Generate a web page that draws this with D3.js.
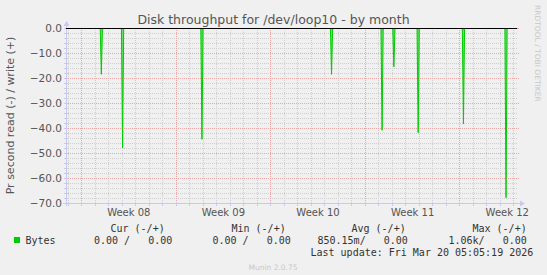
<!DOCTYPE html>
<html lang="en">
<head>
  <meta charset="UTF-8">
  <title>Disk throughput for /dev/loop10 - by month</title>
  <style>
    body { margin: 0; background: #f0f0f0; }
    svg { display: block; }
    text { font-family: "DejaVu Sans", sans-serif; }
    .mono { font-family: "DejaVu Sans Mono", monospace; white-space: pre; }
  </style>
</head>
<body>
  <svg id="chart" width="547" height="275"></svg>
  <script src="https://d3js.org/d3.v7.min.js"></script>
  <script>
    // time window shown on the graph (UTC)
    const timeStart = Date.UTC(2026, 1, 14, 21, 20);
    const timeEnd = Date.UTC(2026, 2, 20, 6, 13);

    // read spikes (negative = read), values in bytes/s
    const spikeTimes = [
      Date.UTC(2026, 1, 17, 11, 12),
      Date.UTC(2026, 1, 19, 0, 53),
      Date.UTC(2026, 1, 24, 21, 52),
      Date.UTC(2026, 2, 6, 12, 0),
      Date.UTC(2026, 2, 10, 5, 45),
      Date.UTC(2026, 2, 11, 2, 40),
      Date.UTC(2026, 2, 12, 21, 50),
      Date.UTC(2026, 2, 16, 6, 14),
      Date.UTC(2026, 2, 19, 9, 50)
    ];
    const spikeValues = [-18.3, -47.7, -44.3, -18.3, -40.7, -15.3, -41.7, -38.1, -67.7];

    const yTicks = [0, -10, -20, -30, -40, -50, -60, -70];
    const weekLabels = ["Week 08", "Week 09", "Week 10", "Week 11", "Week 12"];

    const legendHeader = ["Cur (-/+)", "Min (-/+)", "Avg (-/+)", "Max (-/+)"];
    const legendValues = ["0.00 /   0.00", "0.00 /   0.00", "850.15m/   0.00", "1.06k/   0.00"];

    // one sample every 2 hours on the month graph
    const step = 2 * 3600 * 1000;

    const svg = d3.select("#chart");
    const plotL = 66, plotR = 517, plotT = 28, plotB = 203;

    const x = d3.scaleUtc().domain([timeStart, timeEnd]).range([plotL + 0.5, plotR + 0.5]);
    const y = d3.scaleLinear().domain([-70, 0]).range([plotB + 0.5, plotT + 0.5]);
    const px = d => Math.round(x(d) - 0.5) + 0.5;

    // title
    svg.append("text")
      .attr("x", 273.5).attr("y", 24)
      .attr("text-anchor", "middle")
      .attr("font-size", 12.5)
      .attr("fill", "#555")
      .text("Disk throughput for /dev/loop10 - by month");

    // grid
    const grid = svg.append("g");
    const days = d3.utcDay.range(timeStart, timeEnd);
    const mondays = d3.utcMonday.range(timeStart, timeEnd);

    grid.selectAll(".vminor")
      .data(days.filter(d => d.getUTCDay() !== 1))
      .enter().append("line")
      .attr("x1", px).attr("x2", px)
      .attr("y1", plotT).attr("y2", plotB + 1)
      .attr("stroke", "#cfcfcf").attr("stroke-dasharray", "1,1");

    grid.selectAll(".hminor")
      .data(d3.range(-70, 1, 2).filter(v => v % 10 !== 0))
      .enter().append("line")
      .attr("x1", plotL).attr("x2", plotR + 1)
      .attr("y1", d => y(d)).attr("y2", d => y(d))
      .attr("stroke", "#cfcfcf").attr("stroke-dasharray", "1,1");

    grid.selectAll(".vmajor")
      .data(mondays)
      .enter().append("line")
      .attr("x1", px).attr("x2", px)
      .attr("y1", plotT).attr("y2", plotB + 1)
      .attr("stroke", "#e8a8a8").attr("stroke-dasharray", "1,1");

    grid.selectAll(".hmajor")
      .data(yTicks)
      .enter().append("line")
      .attr("x1", plotL).attr("x2", plotR + 2)
      .attr("y1", d => y(d)).attr("y2", d => y(d))
      .attr("stroke", "#e8a8a8").attr("stroke-dasharray", "1,1");

    // y tick labels
    svg.selectAll(".ylab")
      .data(yTicks)
      .enter().append("text")
      .attr("x", 62).attr("y", d => y(d) + 3.8)
      .attr("text-anchor", "end")
      .attr("font-size", 10.5)
      .attr("fill", "#555")
      .text(d => d3.format(".1f")(d));

    // week labels, centred in each week
    svg.selectAll(".xlab")
      .data(mondays.slice(0, weekLabels.length))
      .enter().append("text")
      .attr("x", d => x(d3.utcHour.offset(d, 84)))
      .attr("y", 216)
      .attr("text-anchor", "middle")
      .attr("font-size", 10)
      .attr("fill", "#555")
      .text((d, i) => weekLabels[i]);

    // axis label
    svg.append("text")
      .attr("transform", `translate(14,${(plotT + plotB) / 2}) rotate(-90)`)
      .attr("text-anchor", "middle")
      .attr("font-size", 11)
      .attr("fill", "#555")
      .text("Pr second read (-) / write (+)");

    svg.append("text")
      .attr("transform", "translate(535,5) rotate(90)")
      .attr("font-size", 7.5)
      .attr("fill", "#c8c8c8")
      .text("RRDTOOL / TOBI OETIKER");

    // axes lines with arrows
    const axisColor = "#c8c8f0";
    svg.append("line")
      .attr("x1", plotL + 0.5).attr("x2", plotL + 0.5)
      .attr("y1", plotB + 3).attr("y2", plotT - 4)
      .attr("stroke", axisColor);
    svg.append("path")
      .attr("d", `M${plotL - 2.5},${plotT - 2}L${plotL + 0.5},${plotT - 7}L${plotL + 3.5},${plotT - 2}Z`)
      .attr("fill", axisColor);
    svg.append("line")
      .attr("x1", plotL - 3).attr("x2", plotR + 4)
      .attr("y1", plotB + 0.5).attr("y2", plotB + 0.5)
      .attr("stroke", axisColor);
    svg.append("path")
      .attr("d", `M${plotR + 3},${plotB - 2.5}L${plotR + 8},${plotB + 0.5}L${plotR + 3},${plotB + 3.5}Z`)
      .attr("fill", axisColor);

    // tick marks on the axes
    svg.selectAll(".yt")
      .data(d3.range(-70, 1, 2))
      .enter().append("line")
      .attr("x1", plotL - 2).attr("x2", plotL + 2)
      .attr("y1", d => y(d)).attr("y2", d => y(d))
      .attr("stroke", axisColor);
    svg.selectAll(".xt")
      .data(days)
      .enter().append("line")
      .attr("x1", px).attr("x2", px)
      .attr("y1", plotB - 1).attr("y2", plotB + 3)
      .attr("stroke", axisColor);

    // read series: zero except for the spikes
    const points = [[timeStart, 0]];
    spikeTimes.forEach((t, i) => {
      points.push([t - step, 0], [t, spikeValues[i]], [t + step, 0]);
    });
    points.push([timeEnd, 0]);

    svg.append("path")
      .datum(points)
      .attr("fill", "#66dd66")
      .attr("stroke", "#00cc00")
      .attr("stroke-width", 1)
      .attr("d", d3.line().x(d => x(d[0])).y(d => y(d[1])));

    // zero line
    svg.append("line")
      .attr("x1", plotL).attr("x2", plotR)
      .attr("y1", y(0)).attr("y2", y(0))
      .attr("stroke", "#000");

    // legend
    svg.append("rect")
      .attr("x", 14).attr("y", 237).attr("width", 6).attr("height", 6)
      .attr("fill", "#00cc00");
    svg.append("text").attr("class", "mono")
      .attr("x", 25.5).attr("y", 244).attr("font-size", 10).attr("fill", "#333")
      .text("Bytes");

    const headerX = [110.5, 231.5, 351.5, 472.5];
    const valueX = [94, 212.5, 317.5, 448.5];
    svg.selectAll(".lh")
      .data(legendHeader)
      .enter().append("text").attr("class", "mono")
      .attr("x", (d, i) => headerX[i]).attr("y", 232)
      .attr("font-size", 10).attr("fill", "#333")
      .text(d => d);
    svg.selectAll(".lv")
      .data(legendValues)
      .enter().append("text").attr("class", "mono")
      .attr("x", (d, i) => valueX[i]).attr("y", 244)
      .attr("font-size", 10).attr("fill", "#333")
      .text(d => d);

    svg.append("text").attr("class", "mono")
      .attr("x", 310.5).attr("y", 256)
      .attr("font-size", 10).attr("fill", "#333")
      .text("Last update: Fri Mar 20 05:05:19 2026");

    svg.append("text")
      .attr("x", 273).attr("y", 269.5)
      .attr("text-anchor", "middle")
      .attr("font-size", 7.5)
      .attr("fill", "#c8c8c8")
      .text("Munin 2.0.75");
  </script>
</body>
</html>
